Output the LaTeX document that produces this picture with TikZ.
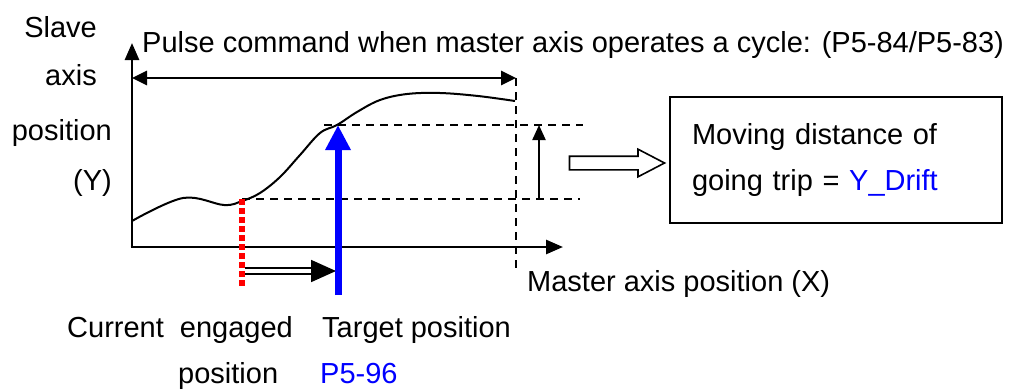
\documentclass[tikz,border=0pt]{standalone}
\usepackage{fontspec}
\setmainfont{Liberation Sans}
\usetikzlibrary{arrows.meta,positioning,shapes.arrows}

\begin{document}
\begin{tikzpicture}[x=1pt,y=-1pt,
    lbl/.style={inner sep=0,font=\fontsize{29}{46}\selectfont},
    axis/.style={line width=2.7,-{Triangle[length=17,width=14]}},
    cyc/.style={line width=2.7,{Triangle[length=15,width=14]}-{Triangle[length=15,width=14]}},
    guide/.style={line width=1.6,dash pattern=on 8 off 6},
    lift/.style={line width=2.2,-{Triangle[length=15,width=13]}},
    engline/.style={red,line width=5.5,dash pattern=on 5.5 off 3.5},
    tgtarrow/.style={blue,line width=7,-{Triangle[length=25,width=24]}},
    slide/.style={double,line width=1.8,double distance=3.5,-{Triangle[length=25,width=22]}},
    hollow/.style={single arrow,draw,line width=1.6,minimum height=95,inner sep=6,
      single arrow head extend=7,single arrow tip angle=55},
    drift/.style={draw,line width=1.8,minimum width=332,minimum height=126,text width=288,
      inner xsep=22,align=left,font=\fontsize{29}{46}\selectfont}
    ]
    \useasboundingbox (0,0) rectangle (1011,391);

    \coordinate (O) at (132,247);
    \coordinate (Ox) at (130.65,247);
    \coordinate (ytop) at (132,43);
    \coordinate (xend) at (563,247);
    \coordinate (cycL) at (132,78);
    \coordinate (cycR) at (516,78);
    \coordinate (cycB) at (516,268);
    \coordinate (eng) at (242,199);
    \coordinate (engB) at (242,288);
    \coordinate (tgt) at (338,125);
    \coordinate (tgtB) at (338,295);
    \coordinate (hiL) at (324,125);
    \coordinate (hiR) at (583,125);
    \coordinate (loR) at (580,199);
    \coordinate (up0) at (539,199);
    \coordinate (up1) at (539,125);
    \coordinate (slideA) at (245,271);
    \coordinate (slideB) at (336,271);

    % labels
    \node[lbl,anchor=base east] (slave) at (97,37) {Slave};
    \node[lbl,anchor=base east] (yaxis) at (97,85) {axis};
    \node[lbl,anchor=base east] (ypos) at (112,140) {position};
    \node[lbl,anchor=base east] (yname) at (112,190) {(Y)};
    \node[lbl,anchor=base west] (pulse) at (142,52) {Pulse command when master axis operates a cycle: (P5-84/P5-83)};
    \node[lbl,anchor=base west] (master) at (527,291) {Master axis position (X)};
    \node[lbl,anchor=base west] (curlbl) at (67,337) {Current\ \ engaged};
    \node[lbl,anchor=base west] (curpos) at (178,383) {position};
    \node[lbl,anchor=base west] (tgtlbl) at (322,337) {Target position};
    \node[lbl,anchor=base west,text=blue] (tgtpar) at (320,383) {P5-96};

    \node[drift] (box) at (836,160) {Moving distance of\\going trip = \textcolor{blue}{Y\_Drift}};
    \node[hollow] (push) at (610.5,163) {};

    % axes and cycle
    \draw[axis] (O) -- (ytop);
    \draw[axis] (Ox) -- (xend);
    \draw[cyc] (cycL) -- (cycR);
    \draw[guide] (cycR) -- (cycB);

    % cam curve
    \draw[line width=2] plot[smooth,tension=0.6] coordinates {(132,221) (183,198) (224,205) (242,201)
      (260,193) (280,177) (300,155) (320,133) (337,125) (357,112) (380,100) (407,94) (440,93)
      (478,96) (515,101)};

    \draw[guide] (hiL) -- (hiR);
    \draw[guide] (eng) -- (loR);
    \draw[lift] (up0) -- (up1);

    \draw[engline] (eng) -- (engB);
    \draw[slide] (slideA) -- (slideB);
    \draw[tgtarrow] (tgtB) -- (tgt);

\end{tikzpicture}
\end{document}
